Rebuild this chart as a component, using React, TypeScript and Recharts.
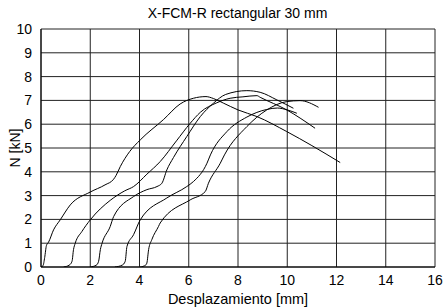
import React from "react";
import { LineChart, Line, XAxis, YAxis, CartesianGrid } from "recharts";

const title = "X-FCM-R rectangular 30 mm";
const xTicks = [0, 2, 4, 6, 8, 10, 12, 14, 16];
const yTicks = [0, 1, 2, 3, 4, 5, 6, 7, 8, 9, 10];

const curve1X = [0, 0.08, 0.15, 0.22, 0.31, 0.51, 0.78, 1.19, 2.0, 2.6, 2.95, 3.05, 3.22, 3.6, 4.03, 4.98, 5.65, 6.19, 6.7, 7.0, 7.4, 8.0, 8.77, 9.98, 11.0, 12.15];
const curve1Y = [0, 0.05, 0.4, 0.9, 1.05, 1.56, 1.98, 2.61, 3.15, 3.45, 3.69, 3.85, 4.22, 4.85, 5.34, 6.2, 6.85, 7.09, 7.16, 7.08, 6.89, 6.6, 6.32, 5.69, 5.1, 4.39];

const curve2X = [0.92, 1.15, 1.26, 1.32, 1.39, 1.66, 2.0, 2.81, 3.4, 3.76, 4.3, 4.84, 5.5, 6.06, 6.47, 7.14, 7.68, 8.2, 8.77, 8.9, 9.98, 11.13];
const curve2Y = [0, 0.08, 0.24, 0.73, 1.0, 1.49, 1.98, 2.8, 3.2, 3.38, 3.9, 4.43, 5.3, 6.04, 6.5, 6.9, 7.09, 7.15, 7.2, 7.13, 6.6, 5.83];

const curve3X = [2.0, 2.25, 2.34, 2.41, 2.48, 2.81, 2.95, 3.76, 4.3, 4.71, 4.91, 5.11, 5.38, 5.92, 6.47, 7.0, 7.5, 8.36, 8.9, 9.58, 10.25];
const curve3Y = [0, 0.08, 0.24, 0.73, 1.0, 1.7, 2.12, 2.96, 3.25, 3.38, 3.52, 4.08, 4.6, 5.48, 6.32, 6.88, 7.25, 7.41, 7.34, 7.02, 6.67];

const curve4X = [3.0, 3.3, 3.42, 3.49, 3.76, 4.03, 5.11, 5.92, 6.19, 6.74, 6.88, 7.55, 8.36, 9.17, 9.6, 10.0, 10.39];
const curve4Y = [0, 0.08, 0.24, 0.86, 1.36, 1.98, 2.9, 3.38, 3.59, 4.36, 4.71, 5.69, 6.3, 6.62, 6.68, 6.6, 6.46];

const curve5X = [4.03, 4.25, 4.3, 4.37, 4.5, 4.77, 4.84, 6.06, 6.67, 6.8, 7.28, 7.45, 8.36, 9.17, 9.98, 10.52, 11.27];
const curve5Y = [0, 0.08, 0.17, 0.73, 1.15, 1.7, 1.85, 2.82, 3.17, 3.52, 4.36, 4.71, 5.9, 6.6, 6.95, 6.99, 6.71];

const toPoints = (xs: number[], ys: number[]) => xs.map((x, i) => ({ x, y: ys[i] }));

const series = [
  toPoints(curve1X, curve1Y),
  toPoints(curve2X, curve2Y),
  toPoints(curve3X, curve3Y),
  toPoints(curve4X, curve4Y),
  toPoints(curve5X, curve5Y),
];

const font = "Liberation Sans, Arial, sans-serif";

export default function App() {
  return (
    <div style={{ position: "absolute", left: 0, top: 0, width: 443, height: 307, background: "#fff", fontFamily: font }}>
      <div
        style={{
          position: "absolute",
          left: 40,
          width: 395,
          top: 5,
          textAlign: "center",
          fontSize: 14,
          color: "#000",
          lineHeight: "16px",
        }}
      >
        {title}
      </div>
      <LineChart width={443} height={307} margin={{ top: 29, right: 8, left: 0, bottom: 0 }}>
        <CartesianGrid stroke="#222" strokeWidth={1} vertical horizontal />
        <XAxis
          type="number"
          dataKey="x"
          domain={[0, 16]}
          ticks={xTicks}
          interval={0}
          allowDataOverflow
          tickLine={false}
          axisLine={{ stroke: "#000" }}
          tick={{ fill: "#000", fontSize: 14, fontFamily: font }}
          tickMargin={2}
          height={40}
          label={{ value: "Desplazamiento [mm]", position: "insideBottom", offset: 3, fill: "#000", fontSize: 14.5, fontFamily: font }}
        />
        <YAxis
          type="number"
          domain={[0, 10]}
          ticks={yTicks}
          interval={0}
          allowDataOverflow
          tickLine={false}
          axisLine={{ stroke: "#000" }}
          tick={{ fill: "#000", fontSize: 14, fontFamily: font }}
          tickMargin={3}
          width={41}
          label={{ value: "N [kN]", angle: -90, position: "insideLeft", offset: 15, fill: "#000", fontSize: 14, fontFamily: font, style: { textAnchor: "middle" } }}
        />
        {series.map((d, i) => (
          <Line
            key={i}
            data={d}
            dataKey="y"
            type="monotone"
            stroke="#000"
            strokeWidth={1}
            dot={false}
            isAnimationActive={false}
          />
        ))}
      </LineChart>
    </div>
  );
}
